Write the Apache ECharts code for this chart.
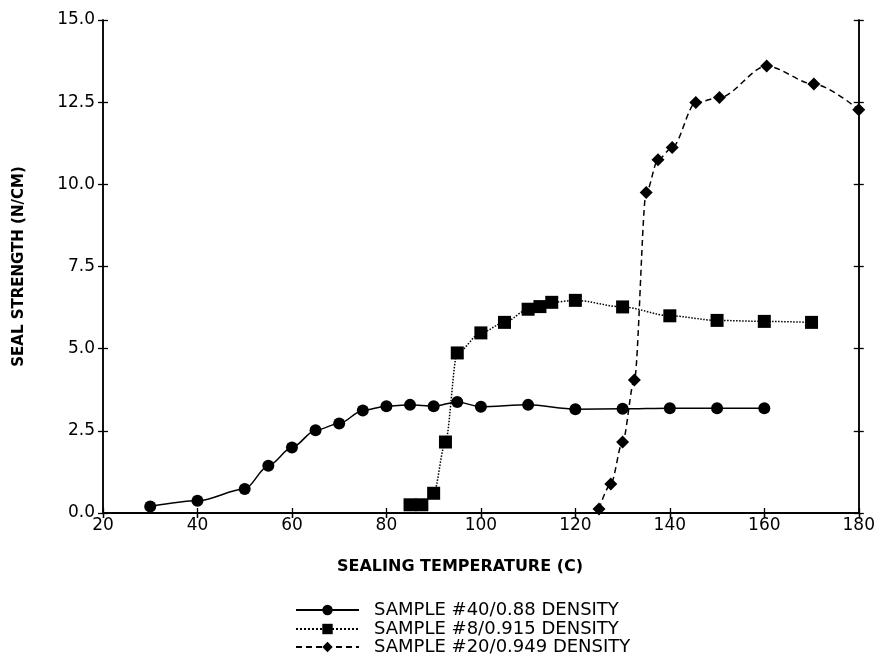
<!DOCTYPE html>
<html><head><meta charset="utf-8">
<script src="https://cdn.jsdelivr.net/npm/echarts@6/dist/echarts.min.js"></script>
<style>html,body{margin:0;padding:0;background:#fff}#c{width:878px;height:656px}</style>
</head><body><div id="c"></div>
<script>
var seriesNames = ['SAMPLE #40/0.88 DENSITY', 'SAMPLE #8/0.915 DENSITY', 'SAMPLE #20/0.949 DENSITY'];
var sample40 = [[30,0.2],[40,0.37],[50,0.73],[55,1.44],[60,1.99],[65,2.52],[70,2.72],[75,3.12],[80,3.25],[85,3.29],[90,3.25],[95,3.38],[100,3.23],[110,3.29],[120,3.16],[130,3.17],[140,3.19],[150,3.19],[160,3.19]];
var sample8 = [[85,0.25],[87.5,0.25],[90,0.6],[92.5,2.16],[95,4.87],[100,5.48],[105,5.8],[110,6.2],[112.5,6.28],[115,6.41],[120,6.47],[130,6.27],[140,6.0],[150,5.86],[160,5.83],[170,5.8]];
var sample20 = [[125,0.12],[127.5,0.88],[130,2.16],[132.5,4.05],[135,9.75],[137.5,10.75],[140.5,11.12],[145.5,12.49],[150.5,12.64],[160.5,13.6],[170.5,13.05],[180,12.27]];
var xTitle = 'SEALING TEMPERATURE (C)';
var yTitle = 'SEAL STRENGTH (N/CM)';

var FONT = 'DejaVu Sans';
var axLine = {show: true, lineStyle: {color: '#000', width: 1.5}};
function xAx(pos, inside, labels) {
  return {type: 'value', min: 20, max: 180, interval: 20, position: pos,
    axisLine: axLine, splitLine: {show: false},
    axisTick: {show: true, inside: inside, length: 5, lineStyle: {color: '#000', width: 1.3}},
    axisLabel: {show: labels, color: '#000', fontFamily: FONT, fontSize: 17, margin: 4}};
}
function yAx(pos, inside, labels) {
  return {type: 'value', min: 0, max: 15, interval: 2.5, position: pos,
    axisLine: axLine, splitLine: {show: false},
    axisTick: {show: true, inside: inside, length: 5, lineStyle: {color: '#000', width: 1.3}},
    axisLabel: {show: labels, color: '#000', fontFamily: FONT, fontSize: 17, margin: 8,
      formatter: function (v) { return v.toFixed(1); }}};
}
var xAxes = [xAx('bottom', false, true), xAx('bottom', true, false), xAx('top', true, false)];
var yAxes = [yAx('left', false, true), yAx('left', true, false), yAx('right', true, false), yAx('right', false, false)];
yAxes[0].name = yTitle;
yAxes[0].nameLocation = 'middle';
yAxes[0].nameGap = 76;
yAxes[0].nameTextStyle = {color: '#000', fontFamily: FONT, fontWeight: 'bold', fontSize: 15};

function ser(name, data, sym, size, type) {
  return {name: name, type: 'line', data: data, symbol: sym, symbolSize: size,
    smooth: 0.3, smoothMonotone: 'x', xAxisIndex: 0, yAxisIndex: 0,
    itemStyle: {color: '#000'}, lineStyle: {color: '#000', width: 1.5, type: type}};
}
function leg(i, top) {
  return {orient: 'vertical', left: 295, top: top, padding: 0, itemWidth: 63, itemHeight: 13,
    data: [seriesNames[i]],
    textStyle: {color: '#000', fontFamily: FONT, fontSize: 18, padding: [0, 0, 0, 10]}};
}

var chart = echarts.init(document.getElementById('c'), null, {renderer: 'canvas'});
chart.setOption({
  animation: false,
  grid: {left: 103, right: 17, top: 20, bottom: 143, containLabel: false},
  xAxis: xAxes,
  yAxis: yAxes,
  legend: [leg(0, 601), leg(1, 620), leg(2, 638)],
  graphic: [{type: 'text', left: 337, top: 559, style: {text: xTitle, fill: '#000',
    font: 'bold 16px "DejaVu Sans"'}}],
  series: [
    ser(seriesNames[0], sample40, 'circle', 12, 'solid'),
    ser(seriesNames[1], sample8, 'rect', 13, 'dotted'),
    ser(seriesNames[2], sample20, 'diamond', 13, [6, 4])
  ]
});
</script></body></html>
